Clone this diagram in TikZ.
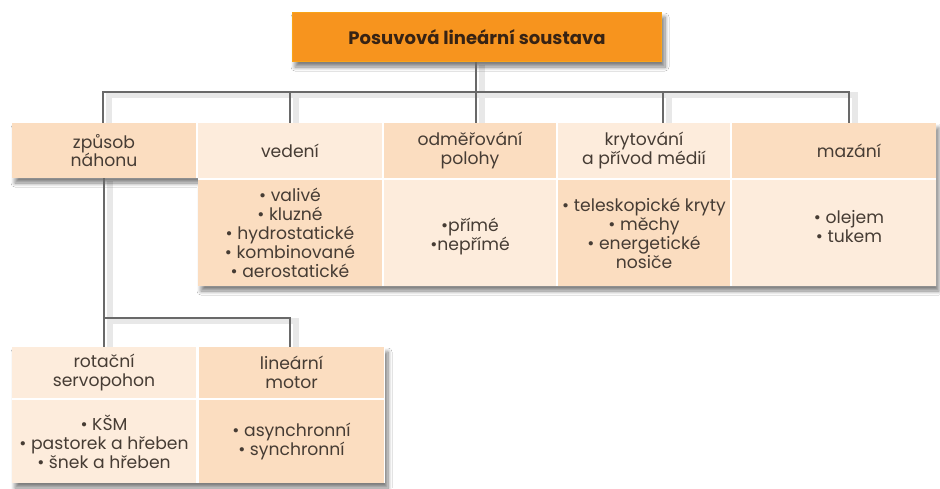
\documentclass[tikz,border=0pt]{standalone}
\usepackage{fontspec}
\setmainfont{Poppins}
\usetikzlibrary{shadows.blur}
\definecolor{peachD}{RGB}{251,221,192}
\definecolor{peachL}{RGB}{253,236,220}
\definecolor{orng}{RGB}{247,148,30}
\definecolor{txtc}{RGB}{70,60,52}
\definecolor{titc}{RGB}{55,35,20}
\definecolor{linec}{RGB}{105,105,105}
\pgfdeclarelayer{background}
\pgfsetlayers{background,main}
\tikzset{
 cell/.style={rectangle, inner sep=0pt, align=center, text=txtc, font=\fontsize{17.2}{19}\selectfont},
 hcell/.style={cell, font=\fontsize{17.2}{18.5}\selectfont},
 dcell/.style={fill=peachD},
 lcell/.style={fill=peachL},
 conn/.style={draw=linec, line width=1.6pt},
 connshadow/.style={draw=black!9, line width=6pt},
 grpshadow/.style={fill=white, blur shadow={shadow xshift=3pt, shadow yshift=-5pt, shadow opacity=50, shadow blur steps=8, shadow blur radius=4pt}}
}
\begin{document}
\begin{tikzpicture}[x=1pt,y=-1pt]
\useasboundingbox (0,0) rectangle (940,488);
% group shadows
\path[grpshadow] (292,12) rectangle (662,62);
\path[grpshadow] (12,123) -- (936,123) -- (936,286) -- (198,286) -- (198,178) -- (12,178) -- cycle;
\path[grpshadow] (12,347) rectangle (385,483);
% title
\node[fill=orng, draw=orng!85!yellow, line width=0.8pt, minimum width=369pt, minimum height=49pt, inner sep=0pt, text=titc, font=\fontsize{18}{20}\selectfont\bfseries] (top) at (477,37) {Posuvová lineární soustava};
% header row
\node[hcell, dcell, minimum width=184pt, minimum height=55pt] (h1) at (104,150.5) {způsob\\náhonu};
\node[hcell, lcell, minimum width=184pt, minimum height=55pt] (h2) at (290,150.5) {vedení};
\node[hcell, dcell, minimum width=172pt, minimum height=55pt] (h3) at (470,150.5) {odměřování\\polohy};
\node[hcell, lcell, minimum width=172pt, minimum height=55pt] (h4) at (644,150.5) {krytování\\a přívod médií};
\node[hcell, dcell, minimum width=204pt, minimum height=55pt] (h5) at (834,150.5) {};
\node[hcell] (h5t) at (849,150.5) {mazání};
% second row
\node[cell, dcell, minimum width=184pt, minimum height=106pt] (r2) at (290,233) {• valivé\\• kluzné\\• hydrostatické\\• kombinované\\• aerostatické};
\node[cell, lcell, minimum width=172pt, minimum height=106pt] (r3) at (470,233) {};
\node[cell] (r3t) at (470,237) {•přímé\\•nepřímé};
\node[cell, dcell, minimum width=172pt, minimum height=106pt] (r4) at (644,233) {• teleskopické kryty\\• měchy\\• energetické\\nosiče};
\node[cell, lcell, minimum width=204pt, minimum height=106pt] (r5) at (834,233) {};
\node[cell] (r5t) at (849,227) {• olejem\\• tukem};
% lower block
\node[hcell, lcell, minimum width=184pt, minimum height=51pt] (lh1) at (104,372.5) {rotační\\servopohon};
\node[hcell, dcell, minimum width=185pt, minimum height=51pt] (lh2) at (291.5,372.5) {lineární\\motor};
\node[cell, lcell, minimum width=184pt, minimum height=83pt] (lr1) at (104,441.5) {• KŠM\\• pastorek a hřeben\\• šnek a hřeben};
\node[cell, dcell, minimum width=185pt, minimum height=83pt] (lr2) at (291.5,441.5) {• asynchronní\\• synchronní};
% connectors
\coordinate (b1) at (103,92);
\coordinate (b2) at (290,92);
\coordinate (b3) at (476,92);
\coordinate (b4) at (663,92);
\coordinate (b5) at (849,92);
\coordinate (m1) at (104,318);
\coordinate (m2) at (290,318);
\begin{pgfonlayer}{background}
\fill[white] (0,0) rectangle (940,488);
\begin{scope}[transform canvas={shift={(6pt,-3pt)}}]
\draw[connshadow] (b1 |- h1.north) -- (b1) -- (b5) -- (b5 |- h5.north);
\draw[connshadow] (b3 |- top.south) -- (b3 |- h3.north);
\draw[connshadow] (b2) -- (b2 |- h2.north);
\draw[connshadow] (b4) -- (b4 |- h4.north);
\draw[connshadow] (h1.south) -- (m1 |- lh1.north);
\draw[connshadow] (m1) -- (m2) -- (m2 |- lh2.north);
\end{scope}
\end{pgfonlayer}
\draw[conn] (b1 |- h1.north) -- (b1) -- (b5) -- (b5 |- h5.north);
\draw[conn] (b3 |- top.south) -- (b3 |- h3.north);
\draw[conn] (b2) -- (b2 |- h2.north);
\draw[conn] (b4) -- (b4 |- h4.north);
\draw[conn] (h1.south) -- (m1 |- lh1.north);
\draw[conn] (m1) -- (m2) -- (m2 |- lh2.north);
\end{tikzpicture}
\end{document}
